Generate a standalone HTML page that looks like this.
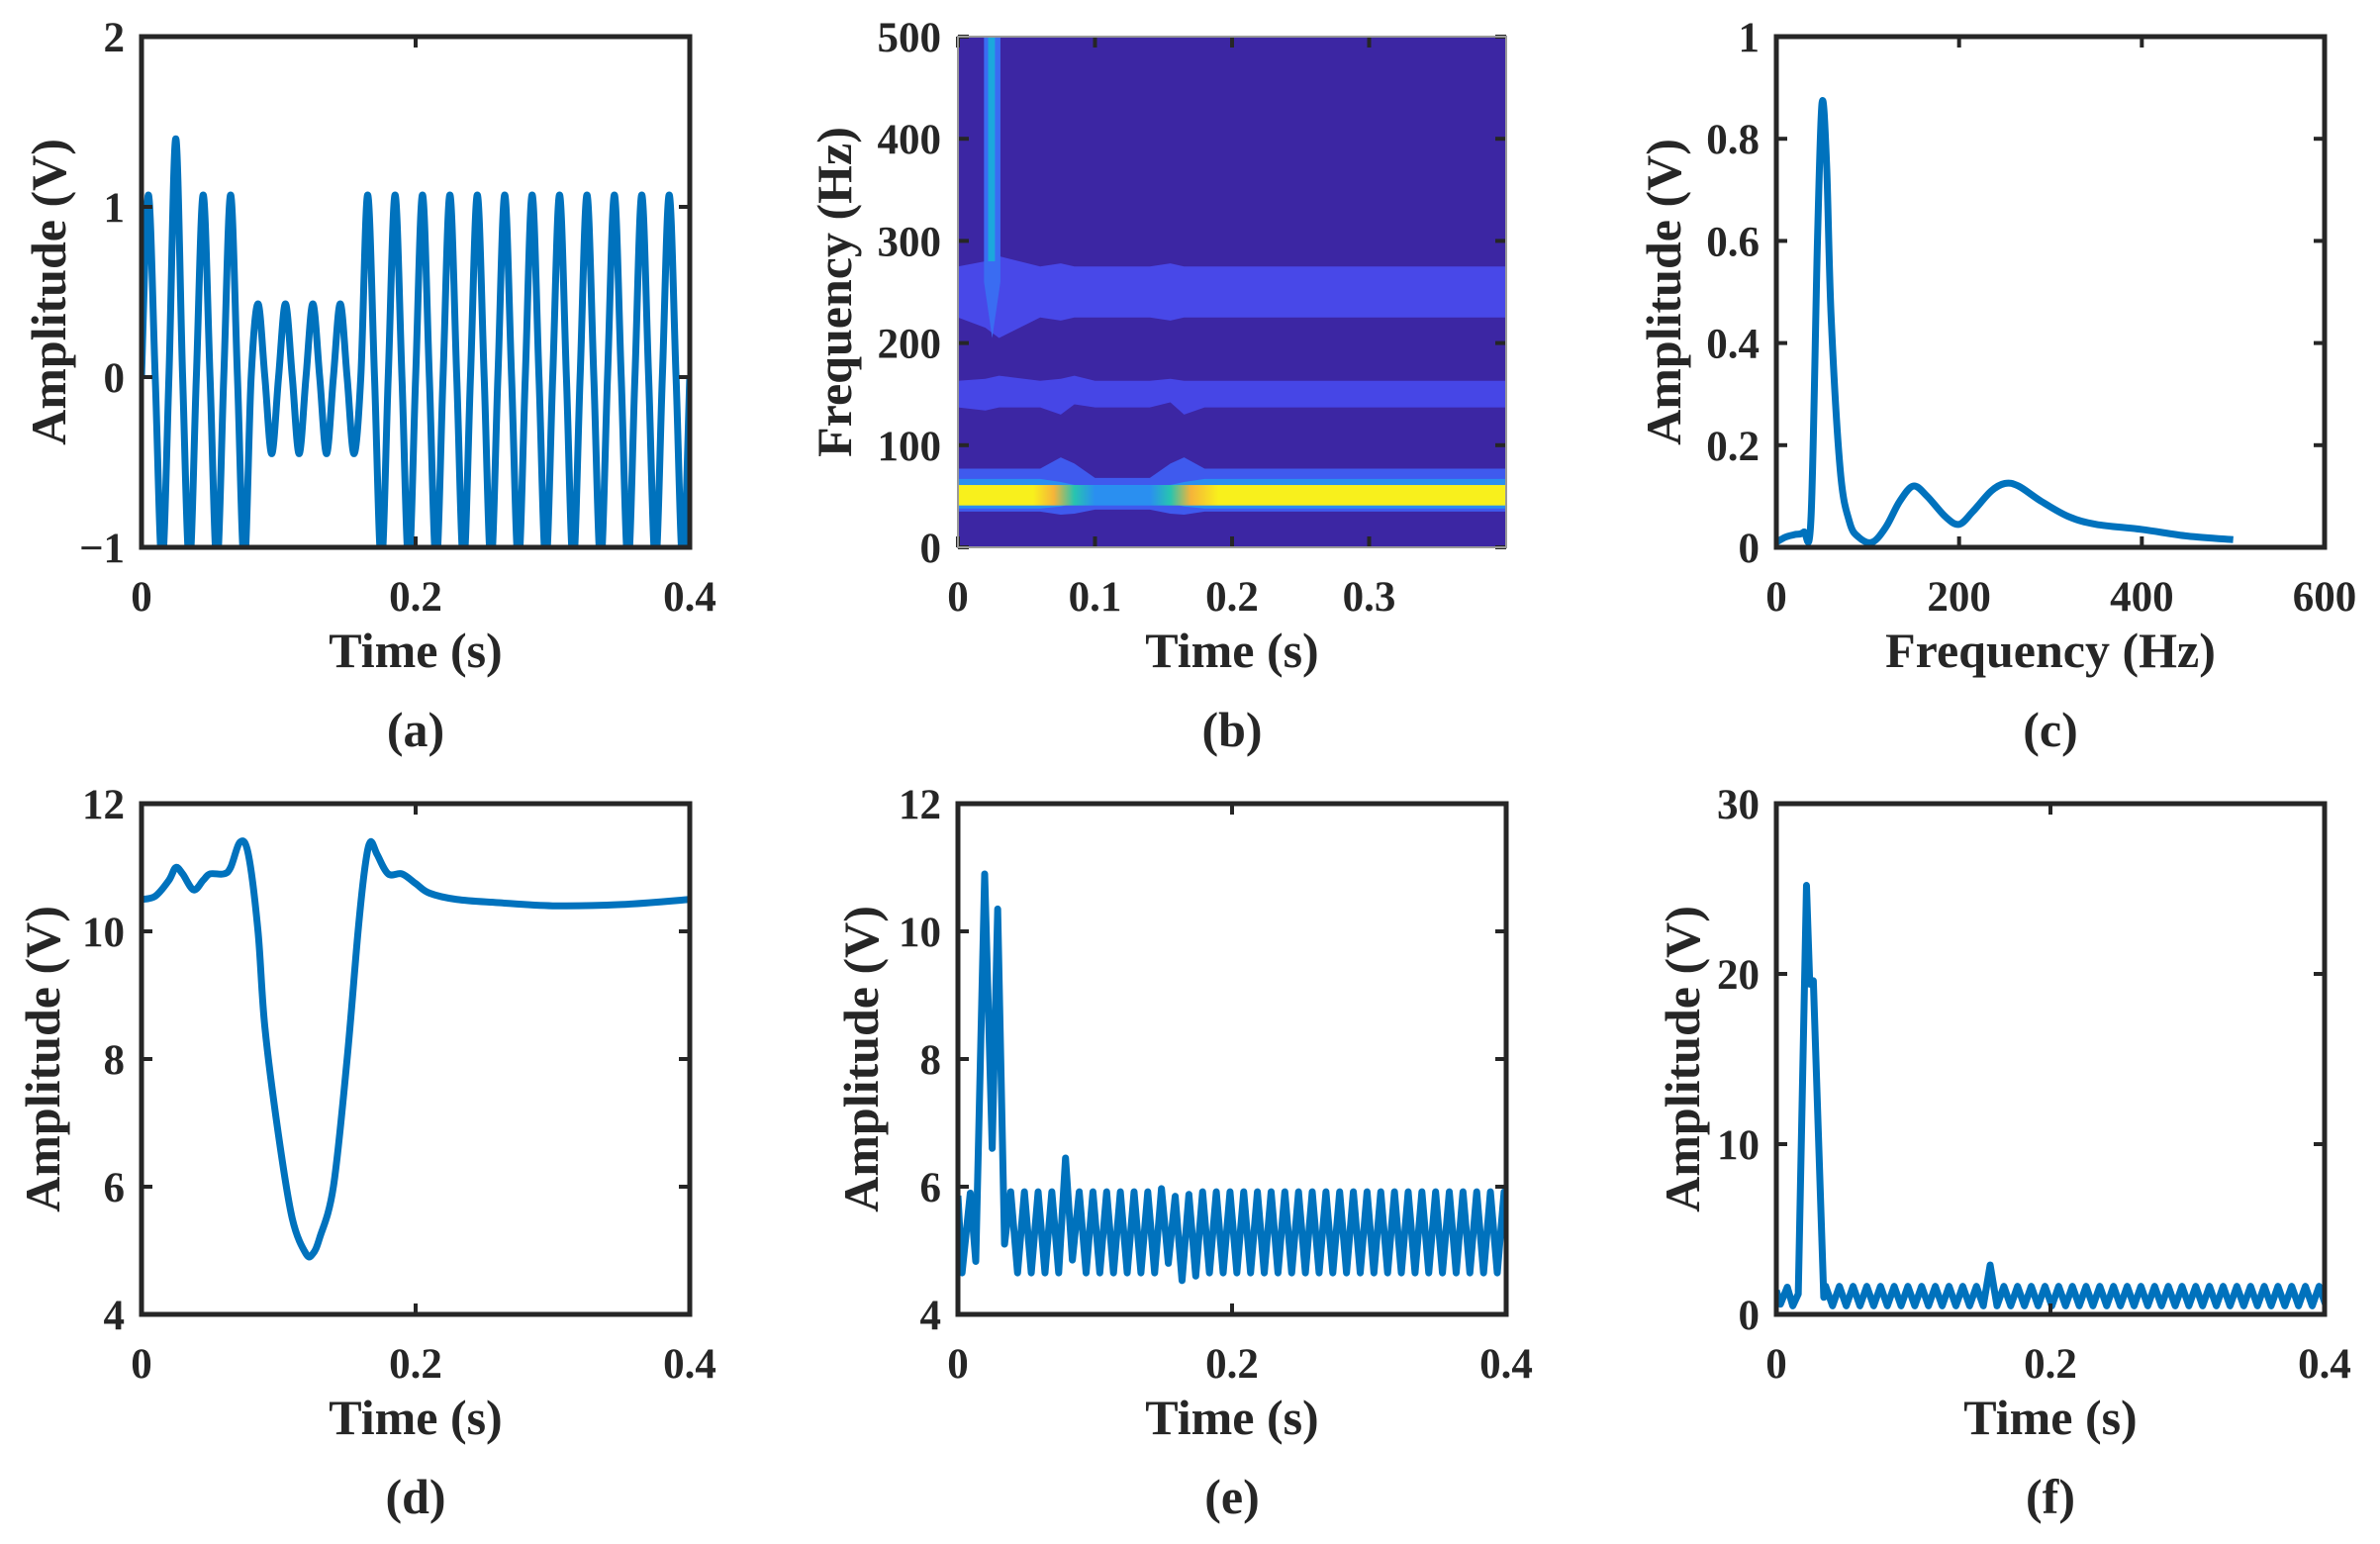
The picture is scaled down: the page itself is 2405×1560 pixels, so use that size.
<!DOCTYPE html>
<html><head><meta charset="utf-8"><title>Signal panels</title>
<style>
html,body{margin:0;padding:0;background:#fff;}
svg{display:block;}
text{font-family:"Liberation Serif","Times New Roman",serif;font-weight:bold;fill:#262626;}
</style></head>
<body>
<svg id="fig" width="2405" height="1560" viewBox="0 0 2405 1560" xmlns="http://www.w3.org/2000/svg"></svg>
<script>
// ---------- data ----------
// (a) voltage waveform: per 50 Hz cycle peak / trough values
const aPeaks   = [1.07,1.4,1.07,1.07,0.43,0.43,0.43,0.43,1.07,1.07,1.07,1.07,1.07,1.07,1.07,1.07,1.07,1.07,1.07,1.07];
const aTroughs = [-1.1,-1.1,-1.1,-1.1,-0.45,-0.45,-0.45,-0.45,-1.1,-1.1,-1.1,-1.1,-1.1,-1.1,-1.1,-1.1,-1.1,-1.1,-1.1,-1.1];
const aXTicks = [0,0.2,0.4];
const aXLabels = ["0","0.2","0.4"];
const aYTicks = [-1,0,1,2];
const aYLabels = ["\u22121","0","1","2"];

// (b) time-frequency map
const specT      = [0,0.02,0.03,0.06,0.075,0.085,0.1,0.14,0.155,0.165,0.18,0.4];
const band250Lo  = [225,215,205,225,222,225,225,225,222,225,225,225];
const band250Hi  = [275,280,285,275,278,275,275,275,278,275,275,275];
const band150Lo  = [137,134,137,137,130,140,137,137,142,130,137,137];
const band150Hi  = [163,165,168,163,165,168,163,163,165,163,163,163];
const band50L1Lo = [35,35,35,35,32,33,37,37,33,32,35,35];
const band50L1Hi = [77,77,77,77,88,82,68,68,82,88,77,77];
const band50L2Lo = [38,38,38,38,40,43,44,44,43,40,38,38];
const band50L2Hi = [67,67,67,67,64,61,61,61,61,64,67,67];
const coreT      = [0,0.055,0.07,0.085,0.1,0.14,0.155,0.17,0.19,0.4];
const coreColor  = ['#f8f01c','#f8f01c','#f5b43a','#27c4b0','#2a8ff0','#2a8ff0','#27c4b0','#f5b43a','#f8f01c','#f8f01c'];
const coreLo = 41, coreHi = 61;
const spikeT = [0.019,0.031];
const spikeF = [205,500];
const spikeCoreT = [0.022,0.027];
const spikeCoreF = [280,500];
const bXTicks = [0,0.1,0.2,0.3];
const bXLabels = ["0","0.1","0.2","0.3"];
const bYTicks = [0,100,200,300,400,500];
const bYLabels = ["0","100","200","300","400","500"];

// (c) spectrum
const cFreq = [0,10,20,30,38,45,50,55,60,70,80,90,105,120,135,150,165,185,200,215,235,250,265,290,320,350,400,450,500];
const cAmp  = [0.01,0.02,0.025,0.03,0.06,0.6,0.87,0.75,0.45,0.15,0.05,0.02,0.01,0.04,0.09,0.12,0.1,0.06,0.045,0.07,0.11,0.125,0.12,0.09,0.06,0.045,0.035,0.022,0.015];
const cXTicks = [0,200,400,600];
const cXLabels = ["0","200","400","600"];
const cYTicks = [0,0.2,0.4,0.6,0.8,1];
const cYLabels = ["0","0.2","0.4","0.6","0.8","1"];

// (d) envelope
const dT = [0,0.01,0.02,0.025,0.03,0.038,0.045,0.05,0.06,0.065,0.072,0.078,0.085,0.09,0.1,0.11,0.12,0.125,0.13,0.14,0.15,0.158,0.163,0.167,0.172,0.18,0.19,0.2,0.21,0.23,0.26,0.3,0.35,0.4];
const dV = [10.5,10.55,10.8,11.0,10.9,10.65,10.8,10.9,10.9,11.0,11.4,11.2,10.0,8.5,6.8,5.5,4.95,4.95,5.2,6.0,8.0,10.0,11.0,11.4,11.2,10.9,10.9,10.75,10.6,10.5,10.45,10.4,10.42,10.5];
const dYTicks = [4,6,8,10,12];
const dYLabels = ["4","6","8","10","12"];
const tXTicks = [0,0.2,0.4];
const tXLabels = ["0","0.2","0.4"];

// (e) transient + 100 Hz ripple
const ePreT = [0,0.003,0.009,0.013,0.0195,0.025,0.029,0.034];
const ePreV = [5.86,4.65,5.9,4.83,10.9,6.6,10.35,5.1];
const eT0 = 0.0385;
const ePeaks   = [5.92,5.92,5.92,5.92,6.45,5.92,5.92,5.92,5.92,5.92,5.92,5.97,5.85,5.88,5.92,5.92,5.92,5.92,5.92,5.92,5.92,5.92,5.92,5.92,5.92,5.92,5.92,5.92,5.92,5.92,5.92,5.92,5.92,5.92,5.92,5.92,5.92];
const eTroughs = [4.65,4.65,4.65,4.65,4.85,4.65,4.65,4.65,4.65,4.65,4.65,4.8,4.53,4.6,4.65,4.65,4.65,4.65,4.65,4.65,4.65,4.65,4.65,4.65,4.65,4.65,4.65,4.65,4.65,4.65,4.65,4.65,4.65,4.65,4.65,4.65,4.65];

// (f) transient + ripple
const fPreT = [0,0.003,0.008,0.012,0.016,0.022,0.0244,0.027,0.0346];
const fPreV = [1.4,0.6,1.6,0.5,1.2,25.2,19.4,19.6,1.0];
const fT0 = 0.036;
const fPeaks   = [1.65,1.65,1.65,1.65,1.65,1.65,1.65,1.65,1.65,1.65,1.65,1.65,2.9,1.65,1.65,1.65,1.65,1.65,1.65,1.65,1.65,1.65,1.65,1.65,1.65,1.65,1.65,1.65,1.65,1.65,1.65,1.65,1.65,1.65,1.65,1.65,1.65];
const fTroughs = [0.5,0.5,0.5,0.5,0.5,0.5,0.5,0.5,0.5,0.5,0.5,0.5,0.5,0.5,0.5,0.5,0.5,0.5,0.5,0.5,0.5,0.5,0.5,0.5,0.5,0.5,0.5,0.5,0.5,0.5,0.5,0.5,0.5,0.5,0.5,0.5,0.5];
const fYTicks = [0,10,20,30];
const fYLabels = ["0","10","20","30"];

// ---------- helpers ----------
const NS = "http://www.w3.org/2000/svg";
const svg = document.getElementById('fig');
function el(tag, attrs, parent){
  const e = document.createElementNS(NS, tag);
  for (const k in attrs) e.setAttribute(k, attrs[k]);
  (parent || svg).appendChild(e);
  return e;
}
const LINE = '#0072BD';
const LW = 7;
let clipId = 0;

function panel(c){
  const g = el('g', {});
  
  
  const sx = v => c.x0 + (v - c.xmin) / (c.xmax - c.xmin) * (c.x1 - c.x0);
  const sy = v => c.y1 - (v - c.ymin) / (c.ymax - c.ymin) * (c.y1 - c.y0);
  const id = 'clip' + (clipId++);
  const cp = el('clipPath', {id: id}, g);
  el('rect', {x: c.x0, y: c.y0, width: c.x1 - c.x0, height: c.y1 - c.y0}, cp);
  const plot = el('g', {'clip-path': 'url(#' + id + ')'}, g);
  
  
  c.xticks.forEach((t, i) => {
    const x = sx(t);
    const tk = el('line', {x1: x, x2: x, y1: c.y1, y2: c.y1 - 11, stroke: c.tickColor, 'stroke-width': 4}, g);
    
    
    el('line', {x1: x, x2: x, y1: c.y0, y2: c.y0 + 11, stroke: c.tickColor, 'stroke-width': 4}, g);
    const tx = el('text', {x: x, y: c.tickBase, 'text-anchor': 'middle', 'font-size': 43}, g);
    tx.textContent = c.xlabels[i];
    
    
  });
  c.yticks.forEach((t, i) => {
    const y = sy(t);
    const tk = el('line', {x1: c.x0, x2: c.x0 + 11, y1: y, y2: y, stroke: c.tickColor, 'stroke-width': 4}, g);
    
    
    el('line', {x1: c.x1, x2: c.x1 - 11, y1: y, y2: y, stroke: c.tickColor, 'stroke-width': 4}, g);
    const tx = el('text', {x: c.x0 - 17, y: y + 15, 'text-anchor': 'end', 'font-size': 43}, g);
    tx.textContent = c.ylabels[i];
    
    
  });
  const xt = el('text', {x: (c.x0 + c.x1) / 2, y: c.titleBase, 'text-anchor': 'middle', 'font-size': 50}, g);
  xt.textContent = c.xtitle;
  
  
  const cy = (c.y0 + c.y1) / 2;
  const yt = el('text', {x: c.ytitleX, y: cy, 'text-anchor': 'middle', 'dominant-baseline': 'central', 'font-size': 50, transform: 'rotate(-90 ' + c.ytitleX + ' ' + cy + ')'}, g);
  yt.textContent = c.ytitle;
  
  
  const pl = el('text', {x: (c.x0 + c.x1) / 2, y: c.labelBase, 'text-anchor': 'middle', 'font-size': 50}, g);
  pl.textContent = c.label;
  
  
  return {g, plot, sx, sy, c};
}
function frame(p){
  const c = p.c;
  const f = el('rect', {x: c.x0, y: c.y0, width: c.x1 - c.x0, height: c.y1 - c.y0, fill: 'none', stroke: c.frameColor, 'stroke-width': c.frameW}, p.g);
  
  
}
function linePath(pts, sx, sy){
  return pts.map((p, i) => (i ? 'L' : 'M') + sx(p[0]).toFixed(2) + ',' + sy(p[1]).toFixed(2)).join('');
}
function smoothPath(pts, sx, sy){
  const P = pts.map(p => [sx(p[0]), sy(p[1])]);
  let d = 'M' + P[0][0].toFixed(2) + ',' + P[0][1].toFixed(2);
  for (let i = 0; i < P.length - 1; i++){
    const p0 = P[i - 1] || P[i], p1 = P[i], p2 = P[i + 1], p3 = P[i + 2] || P[i + 1];
    const c1 = [p1[0] + (p2[0] - p0[0]) / 6, p1[1] + (p2[1] - p0[1]) / 6];
    const c2 = [p2[0] - (p3[0] - p1[0]) / 6, p2[1] - (p3[1] - p1[1]) / 6];
    d += 'C' + c1[0].toFixed(2) + ',' + c1[1].toFixed(2) + ' ' + c2[0].toFixed(2) + ',' + c2[1].toFixed(2) + ' ' + p2[0].toFixed(2) + ',' + p2[1].toFixed(2);
  }
  return d;
}
function rippleSeries(preT, preV, t0, peaks, troughs, period){
  const pts = preT.map((t, i) => [t, preV[i]]);
  peaks.forEach((v, k) => {
    pts.push([t0 + period * k, v]);
    pts.push([t0 + period * k + period / 2, troughs[k]]);
  });
  return pts;
}

// layout
const R1 = {y0: 37, y1: 553, tickBase: 617, titleBase: 674, labelBase: 754};
const R2 = {y0: 812, y1: 1328, tickBase: 1392, titleBase: 1449, labelBase: 1529};
const C1 = {x0: 143, x1: 697}, C2 = {x0: 968, x1: 1522}, C3 = {x0: 1795, x1: 2349};
const dark = {frameColor: '#262626', frameW: 5, tickColor: '#262626'};

// ---------- (a) ----------
{
  const p = panel(Object.assign({name: 'panel-a-waveform', xmin: 0, xmax: 0.4, ymin: -1, ymax: 2, xticks: aXTicks, xlabels: aXLabels, yticks: aYTicks, ylabels: aYLabels, xtitle: 'Time (s)', ytitle: 'Amplitude (V)', ytitleX: 49, label: '(a)'}, C1, R1, dark));
  const pts = [[0, 0]];
  aPeaks.forEach((v, k) => {
    pts.push([0.02 * k + 0.005, v]);
    pts.push([0.02 * k + 0.01, 0]);
    pts.push([0.02 * k + 0.015, aTroughs[k]]);
    pts.push([0.02 * k + 0.02, 0]);
  });
  const path = el('path', {d: smoothPath(pts, p.sx, p.sy), fill: 'none', stroke: LINE, 'stroke-width': LW, 'stroke-linejoin': 'round'}, p.plot);
  
  
  frame(p);
}

// ---------- (b) ----------
{
  const p = panel(Object.assign({name: 'panel-b-spectrogram', xmin: 0, xmax: 0.4, ymin: 0, ymax: 500, xticks: bXTicks, xlabels: bXLabels, yticks: bYTicks, ylabels: bYLabels, xtitle: 'Time (s)', ytitle: 'Frequency (Hz)', ytitleX: 843, label: '(b)', frameColor: '#9a9a9a', frameW: 2, tickColor: '#262626'}, C2, R1));
  const bg = el('rect', {x: p.c.x0, y: p.c.y0, width: p.c.x1 - p.c.x0, height: p.c.y1 - p.c.y0, fill: '#3c26a3'}, p.plot);
  
  
  function band(lo, hi, color, name){
    const top = specT.map((t, i) => [t, hi[i]]);
    const bot = specT.map((t, i) => [t, lo[i]]).reverse();
    const d = linePath(top.concat(bot), p.sx, p.sy) + 'Z';
    const b = el('path', {d: d, fill: color}, p.plot);
    
    
  }
  band(band250Lo, band250Hi, '#4848e8', 'band-250hz');
  band(band150Lo, band150Hi, '#4646e6', 'band-150hz');
  band(band50L1Lo, band50L1Hi, '#3f5aee', 'band-50hz-outer');
  band(band50L2Lo, band50L2Hi, '#2a8ff0', 'band-50hz-inner');
  const defs = el('defs', {}, p.g);
  const lg = el('linearGradient', {id: 'coreGrad', gradientUnits: 'userSpaceOnUse', x1: p.sx(0), x2: p.sx(0.4), y1: 0, y2: 0}, defs);
  coreT.forEach((t, i) => el('stop', {offset: (t / 0.4).toFixed(4), 'stop-color': coreColor[i]}, lg));
  const core = el('rect', {x: p.sx(0), y: p.sy(coreHi), width: p.sx(0.4) - p.sx(0), height: p.sy(coreLo) - p.sy(coreHi), fill: 'url(#coreGrad)'}, p.plot);
  
  
  const sp = el('path', {d: 'M' + p.sx(spikeT[0]) + ',' + p.sy(spikeF[1]) + 'L' + p.sx(spikeT[0]) + ',' + p.sy(260) + 'L' + p.sx((spikeT[0] + spikeT[1]) / 2) + ',' + p.sy(spikeF[0]) + 'L' + p.sx(spikeT[1]) + ',' + p.sy(260) + 'L' + p.sx(spikeT[1]) + ',' + p.sy(spikeF[1]) + 'Z', fill: '#3a6cf2'}, p.plot);
  
  
  const sc = el('rect', {x: p.sx(spikeCoreT[0]), y: p.sy(spikeCoreF[1]), width: p.sx(spikeCoreT[1]) - p.sx(spikeCoreT[0]), height: p.sy(spikeCoreF[0]) - p.sy(spikeCoreF[1]), fill: '#1ba8dc'}, p.plot);
  
  
  frame(p);
}

// ---------- (c) ----------
{
  const p = panel(Object.assign({name: 'panel-c-spectrum', xmin: 0, xmax: 600, ymin: 0, ymax: 1, xticks: cXTicks, xlabels: cXLabels, yticks: cYTicks, ylabels: cYLabels, xtitle: 'Frequency (Hz)', ytitle: 'Amplitude (V)', ytitleX: 1681, label: '(c)'}, C3, R1, dark));
  const pts = cFreq.map((f, i) => [f, cAmp[i]]);
  const path = el('path', {d: smoothPath(pts, p.sx, p.sy), fill: 'none', stroke: LINE, 'stroke-width': LW, 'stroke-linejoin': 'round'}, p.plot);
  
  
  frame(p);
}

// ---------- (d) ----------
{
  const p = panel(Object.assign({name: 'panel-d-envelope', xmin: 0, xmax: 0.4, ymin: 4, ymax: 12, xticks: tXTicks, xlabels: tXLabels, yticks: dYTicks, ylabels: dYLabels, xtitle: 'Time (s)', ytitle: 'Amplitude (V)', ytitleX: 43, label: '(d)'}, C1, R2, dark));
  const pts = dT.map((t, i) => [t, dV[i]]);
  const path = el('path', {d: smoothPath(pts, p.sx, p.sy), fill: 'none', stroke: LINE, 'stroke-width': LW, 'stroke-linejoin': 'round'}, p.plot);
  
  
  frame(p);
}

// ---------- (e) ----------
{
  const p = panel(Object.assign({name: 'panel-e-ripple', xmin: 0, xmax: 0.4, ymin: 4, ymax: 12, xticks: tXTicks, xlabels: tXLabels, yticks: dYTicks, ylabels: dYLabels, xtitle: 'Time (s)', ytitle: 'Amplitude (V)', ytitleX: 870, label: '(e)'}, C2, R2, dark));
  const pts = rippleSeries(ePreT, ePreV, eT0, ePeaks, eTroughs, 0.01);
  const path = el('path', {d: linePath(pts, p.sx, p.sy), fill: 'none', stroke: LINE, 'stroke-width': LW, 'stroke-linejoin': 'round'}, p.plot);
  
  
  frame(p);
}

// ---------- (f) ----------
{
  const p = panel(Object.assign({name: 'panel-f-transient', xmin: 0, xmax: 0.4, ymin: 0, ymax: 30, xticks: tXTicks, xlabels: tXLabels, yticks: fYTicks, ylabels: fYLabels, xtitle: 'Time (s)', ytitle: 'Amplitude (V)', ytitleX: 1700, label: '(f)'}, C3, R2, dark));
  const pts = rippleSeries(fPreT, fPreV, fT0, fPeaks, fTroughs, 0.01);
  const path = el('path', {d: linePath(pts, p.sx, p.sy), fill: 'none', stroke: LINE, 'stroke-width': LW, 'stroke-linejoin': 'round'}, p.plot);
  
  
  frame(p);
}
</script>
</body></html>
